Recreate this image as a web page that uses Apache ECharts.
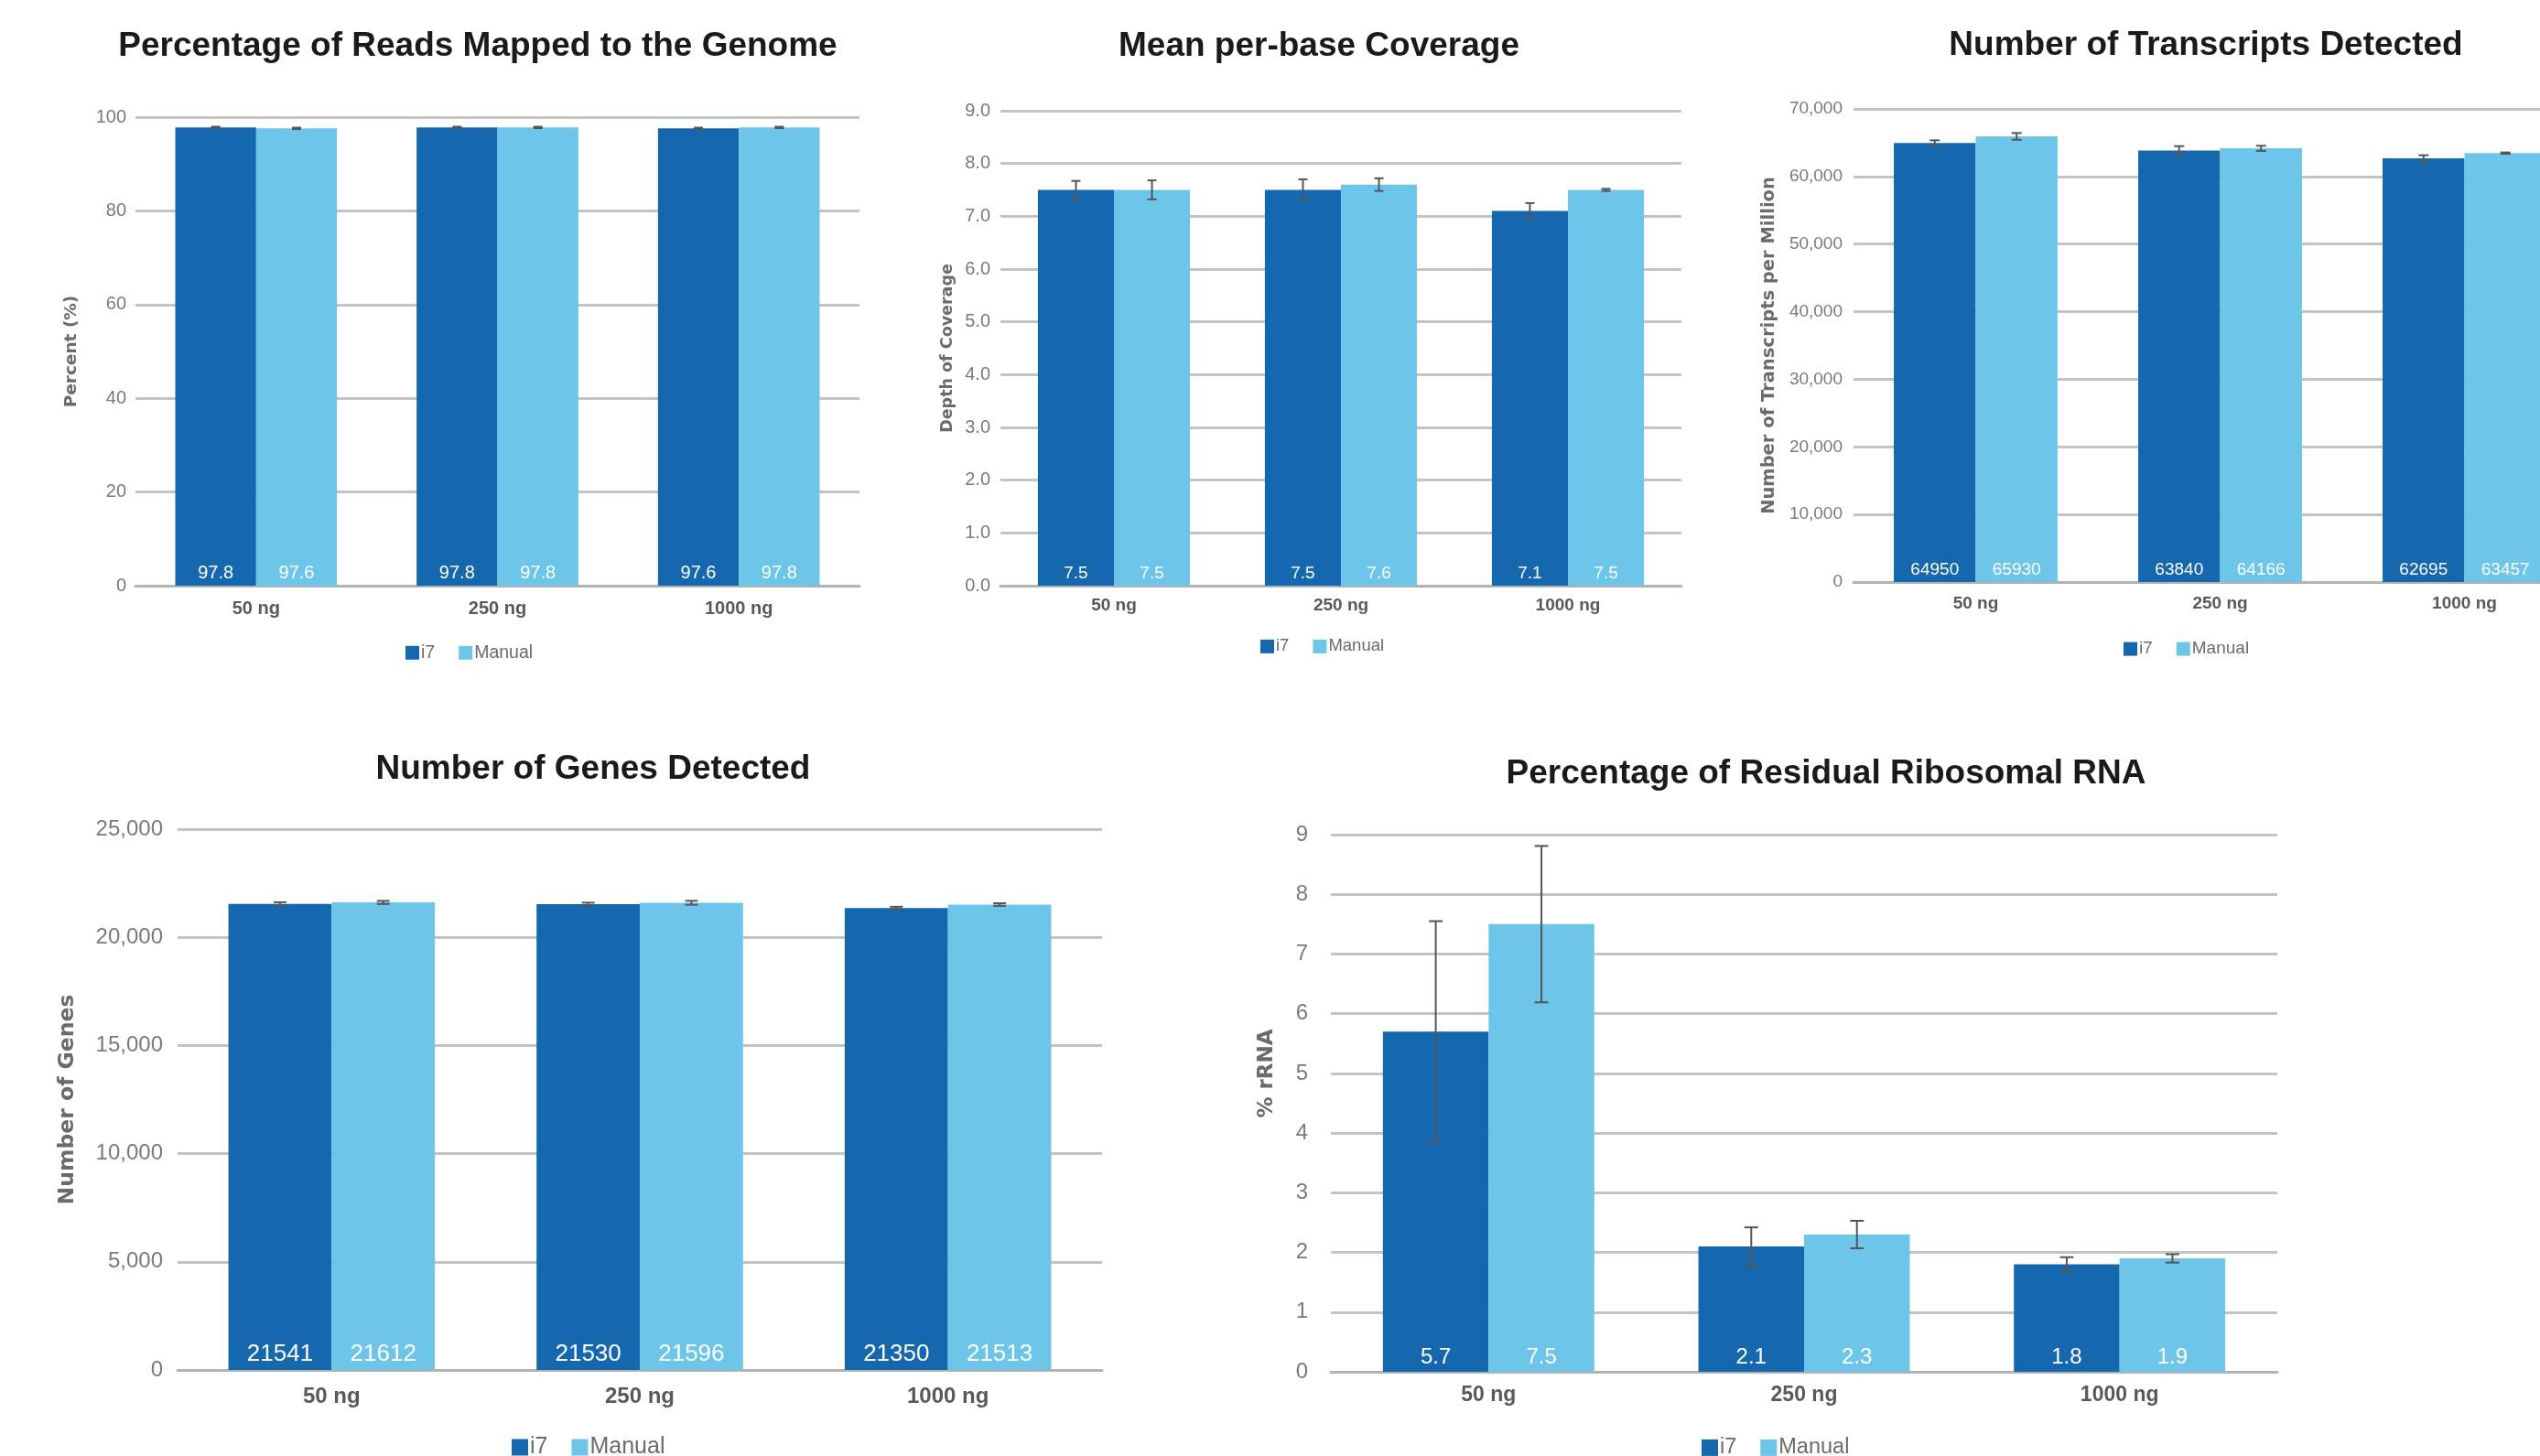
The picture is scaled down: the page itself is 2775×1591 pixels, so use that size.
<!DOCTYPE html>
<html>
<head>
<meta charset="utf-8">
<title>RNA-seq library QC: i7 vs Manual</title>
<script src="https://cdn.jsdelivr.net/npm/echarts@6/dist/echarts.min.js"></script>
<style>
  html, body { margin: 0; padding: 0; background: #ffffff; overflow: hidden; }
  /* the transcripts panel runs past the right edge of the page */
  #chart { width: 2840px; height: 1591px; }
</style>
</head>
<body>
<div id="chart"></div>
<script>
// ---- data ----
const categories = ['50 ng', '250 ng', '1000 ng'];
const seriesNames = ['i7', 'Manual'];

// Percentage of reads mapped to the genome
const mappedI7 = [97.8, 97.8, 97.6];
const mappedManual = [97.6, 97.8, 97.8];
const mappedI7Err = [0.15, 0.15, 0.15];
const mappedManualErr = [0.15, 0.15, 0.15];

// Mean per-base coverage
const coverageI7 = [7.5, 7.5, 7.1];
const coverageManual = [7.5, 7.6, 7.5];
const coverageI7Err = [0.17, 0.2, 0.15];
const coverageManualErr = [0.18, 0.12, 0.02];

// Transcripts detected (per million)
const transcriptsI7 = [64950, 63840, 62695];
const transcriptsManual = [65930, 64166, 63457];
const transcriptsI7Err = [400, 650, 450];
const transcriptsManualErr = [500, 380, 100];

// Genes detected
const genesI7 = [21541, 21530, 21350];
const genesManual = [21612, 21596, 21513];
const genesI7Err = [80, 70, 60];
const genesManualErr = [70, 90, 60];

// Residual ribosomal RNA (%)
const rrnaI7 = [5.7, 2.1, 1.8];
const rrnaManual = [7.5, 2.3, 1.9];
const rrnaI7Err = [1.85, 0.32, 0.12];
const rrnaManualErr = [1.31, 0.23, 0.07];

// ---- styling ----
const DARK = '#1567ae';
const LIGHT = '#6dc6ea';
const SANS = '"Liberation Sans", Arial, Helvetica, sans-serif';
const WIDE = '"DejaVu Sans", "Open Sans", sans-serif';
const GAP = 0.33;

const fmtComma = v => v.toLocaleString('en-US');

const panels = [
  {
    title: 'Percentage of Reads Mapped to the Genome', titleX: 522, titleY: 51,
    yName: 'Percent (%)', yNameX: 78, yNameSize: 18.5,
    grid: { left: 148, top: 128, width: 791, height: 512 },
    y: { min: 0, max: 100, interval: 20, fmt: v => String(v) },
    a: mappedI7, b: mappedManual, aErr: mappedI7Err, bErr: mappedManualErr,
    valueFmt: v => v.toFixed(1),
    yLabelSize: 20, yLabelMargin: 10, xLabelSize: 20, xLabelMargin: 15,
    valueSize: 20, legend: { left: 438, cy: 710, size: 19.5, icon: 15 }, cap: 5
  },
  {
    title: 'Mean per-base Coverage', titleX: 1441, titleY: 51,
    yName: 'Depth of Coverage', yNameX: 1035, yNameSize: 17.5,
    grid: { left: 1093, top: 121, width: 744, height: 519 },
    y: { min: 0, max: 9, interval: 1, fmt: v => v.toFixed(1) },
    a: coverageI7, b: coverageManual, aErr: coverageI7Err, bErr: coverageManualErr,
    valueFmt: v => v.toFixed(1),
    yLabelSize: 20, yLabelMargin: 11, xLabelSize: 19, xLabelMargin: 12,
    valueSize: 19, legend: { left: 1372, cy: 703, size: 18.5, icon: 15 }, cap: 5
  },
  {
    title: 'Number of Transcripts Detected', titleX: 2410, titleY: 50,
    yName: 'Number of Transcripts per Million', yNameX: 1933, yNameSize: 19.5,
    grid: { left: 2025, top: 119, width: 801, height: 517 },
    y: { min: 0, max: 70000, interval: 10000, fmt: fmtComma },
    a: transcriptsI7, b: transcriptsManual, aErr: transcriptsI7Err, bErr: transcriptsManualErr,
    valueFmt: v => String(v),
    yLabelSize: 19, yLabelMargin: 12, xLabelSize: 19, xLabelMargin: 14,
    valueSize: 19, legend: { left: 2315, cy: 706, size: 19, icon: 15 }, cap: 5.5
  },
  {
    title: 'Number of Genes Detected', titleX: 648, titleY: 841,
    yName: 'Number of Genes', yNameX: 74, yNameSize: 23.5,
    grid: { left: 194, top: 906, width: 1010, height: 591 },
    y: { min: 0, max: 25000, interval: 5000, fmt: fmtComma },
    a: genesI7, b: genesManual, aErr: genesI7Err, bErr: genesManualErr,
    valueFmt: v => String(v),
    yLabelSize: 24, yLabelMargin: 16, xLabelSize: 24, xLabelMargin: 17,
    valueSize: 26, legend: { left: 554, cy: 1579, size: 25, icon: 18 }, cap: 7
  },
  {
    title: 'Percentage of Residual Ribosomal RNA', titleX: 1995, titleY: 846,
    yName: '% rRNA', yNameX: 1384, yNameY: 1173, yNameSize: 23,
    grid: { left: 1454, top: 912, width: 1034, height: 587 },
    y: { min: 0, max: 9, interval: 1, fmt: v => String(v) },
    a: rrnaI7, b: rrnaManual, aErr: rrnaI7Err, bErr: rrnaManualErr,
    valueFmt: v => v.toFixed(1),
    yLabelSize: 24, yLabelMargin: 25, xLabelSize: 23, xLabelMargin: 14,
    valueSize: 24, legend: { left: 1854, cy: 1579, size: 23.5, icon: 18 }, cap: 7.5
  }
];

// error bar glyph: vertical whisker with caps, offset to sit over its bar
function errorRenderer(cap) {
  return function (params, api) {
    const c = api.value(0);
    const lo = api.coord([c, api.value(1)]);
    const hi = api.coord([c, api.value(2)]);
    const band = api.size([1, 0])[0];
    const x = lo[0] + api.value(3) * band * (1 - GAP) / 4;
    const style = { stroke: '#555555', lineWidth: 2 };
    return {
      type: 'group',
      children: [
        { type: 'line', shape: { x1: x, y1: hi[1], x2: x, y2: lo[1] }, style },
        { type: 'line', shape: { x1: x - cap, y1: hi[1], x2: x + cap, y2: hi[1] }, style },
        { type: 'line', shape: { x1: x - cap, y1: lo[1], x2: x + cap, y2: lo[1] }, style }
      ]
    };
  };
}

const option = {
  animation: false,
  backgroundColor: '#ffffff',
  grid: [], xAxis: [], yAxis: [], series: [], legend: [], graphic: []
};

panels.forEach((p, i) => {
  option.grid.push(Object.assign({ containLabel: false }, p.grid));
  option.xAxis.push({
    type: 'category', gridIndex: i, data: categories,
    axisLine: { lineStyle: { color: '#b3b3b3', width: 3 } },
    axisTick: { show: false },
    axisLabel: { color: '#595959', fontFamily: SANS, fontWeight: 'bold', fontSize: p.xLabelSize, margin: p.xLabelMargin }
  });
  option.yAxis.push({
    type: 'value', gridIndex: i, min: p.y.min, max: p.y.max, interval: p.y.interval,
    axisLine: { show: false }, axisTick: { show: false },
    axisLabel: { color: '#7a7a7a', fontFamily: SANS, fontSize: p.yLabelSize, margin: p.yLabelMargin, formatter: p.y.fmt },
    splitLine: { lineStyle: { color: '#c4c4c4', width: 3 } }
  });
  const label = {
    show: true, position: 'insideBottom', distance: 4, color: '#ffffff',
    fontFamily: SANS, fontSize: p.valueSize,
    formatter: d => p.valueFmt(d.value)
  };
  option.series.push({
    name: seriesNames[0], type: 'bar', xAxisIndex: i, yAxisIndex: i, data: p.a,
    itemStyle: { color: DARK }, barGap: '0%', barCategoryGap: (GAP * 100) + '%', label
  });
  option.series.push({
    name: seriesNames[1], type: 'bar', xAxisIndex: i, yAxisIndex: i, data: p.b,
    itemStyle: { color: LIGHT }, barGap: '0%', barCategoryGap: (GAP * 100) + '%', label
  });
  const errData = [];
  categories.forEach((_, c) => {
    errData.push([c, p.a[c] - p.aErr[c], p.a[c] + p.aErr[c], -1]);
    errData.push([c, p.b[c] - p.bErr[c], p.b[c] + p.bErr[c], 1]);
  });
  option.series.push({
    type: 'custom', xAxisIndex: i, yAxisIndex: i, z: 10, silent: true,
    renderItem: errorRenderer(p.cap), data: errData,
    encode: { x: 0, y: [1, 2] }
  });
  option.legend.push({
    data: seriesNames, left: p.legend.left, top: p.legend.cy - p.legend.size * 0.6,
    itemWidth: p.legend.icon, itemHeight: p.legend.icon, itemGap: 26,
    icon: 'rect',
    textStyle: { color: '#6b6b6b', fontFamily: SANS, fontSize: p.legend.size, padding: [0, 0, 0, -3] }
  });
  option.graphic.push({
    type: 'text', x: p.titleX, y: p.titleY,
    style: {
      text: p.title, align: 'center', verticalAlign: 'middle',
      fill: '#1a1a1a', font: 'bold 37px ' + SANS
    }
  });
  option.graphic.push({
    type: 'text', x: p.yNameX, y: p.yNameY || (p.grid.top + p.grid.height / 2),
    rotation: Math.PI / 2,
    style: {
      text: p.yName, align: 'center', verticalAlign: 'middle',
      fill: '#6b6b6b', font: 'bold ' + p.yNameSize + 'px ' + WIDE
    }
  });
});

const chart = echarts.init(document.getElementById('chart'), null, { renderer: 'canvas' });
chart.setOption(option);
</script>
</body>
</html>
